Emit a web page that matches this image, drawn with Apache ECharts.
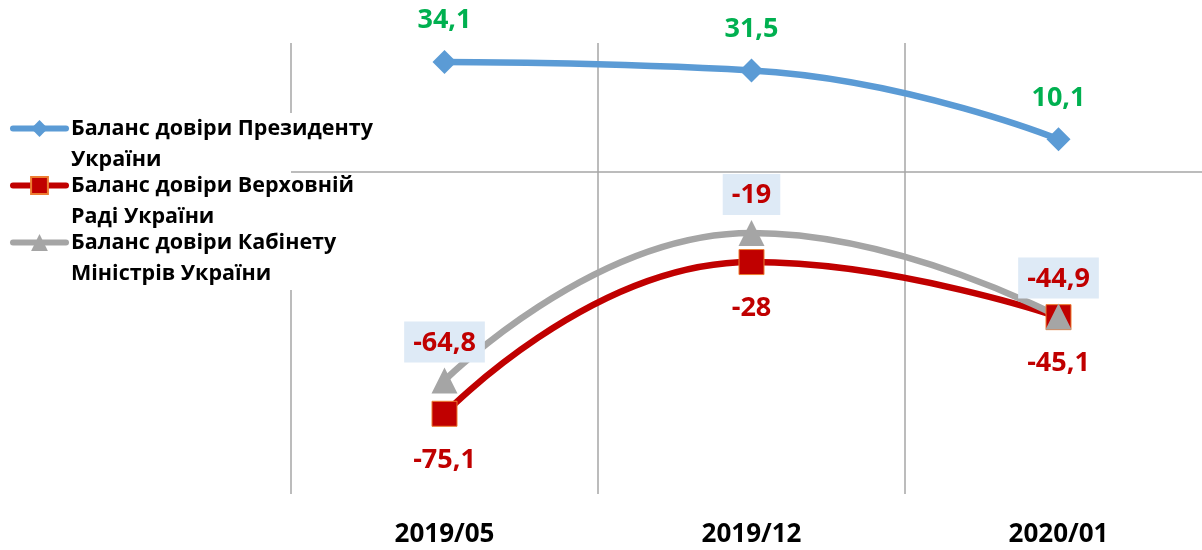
<!DOCTYPE html>
<html>
<head>
<meta charset="utf-8">
<script src="https://cdn.jsdelivr.net/npm/echarts@6/dist/echarts.min.js"></script>
<style>html,body{margin:0;padding:0;background:#fff;}#c{width:1202px;height:550px;}</style>
</head>
<body>
<div id="c"></div>
<script>
const categories = ['2019/05', '2019/12', '2020/01'];
const seriesNames = ['Баланс довіри Президенту України', 'Баланс довіри Верховній Раді України', 'Баланс довіри Кабінету Міністрів України'];
const legendLines = {
  'Баланс довіри Президенту України': ['Баланс довіри Президенту', 'України'],
  'Баланс довіри Верховній Раді України': ['Баланс довіри Верховній', 'Раді України'],
  'Баланс довіри Кабінету Міністрів України': ['Баланс довіри Кабінету', 'Міністрів України']
};
const president = [34.1, 31.5, 10.1];
const rada = [-75.1, -28, -45.1];
const cabinet = [-64.8, -19, -44.9];

const FONT = 'Open Sans';
const fmt = p => String(p.value).replace('.', ',');

const chart = echarts.init(document.getElementById('c'), null, {renderer: 'canvas'});
chart.setOption({
  animation: false,
  backgroundColor: '#fff',
  grid: {left: 291, width: 921, top: 43, bottom: 56, containLabel: false, outerBoundsMode: 'none'},
  xAxis: {
    type: 'category',
    data: categories,
    boundaryGap: true,
    axisLine: {show: false, onZero: false},
    axisTick: {show: false},
    splitLine: {show: true, lineStyle: {color: '#A6A6A6', width: 1.5}},
    axisLabel: {margin: 28, color: '#000', fontFamily: FONT, fontWeight: 'bold', fontSize: 26}
  },
  yAxis: {
    type: 'value', min: -100, max: 40, interval: 20, show: false,
    splitLine: {show: false}
  },
  legend: {
    orient: 'vertical', left: 10, top: 82, padding: 0, itemGap: -36,
    itemWidth: 53, itemHeight: 21,
    data: seriesNames,
    formatter: name => '\n' + legendLines[name].join('\n'),
    lineStyle: {width: 6, cap: 'round'},
    textStyle: {color: '#000', fontFamily: FONT, fontWeight: 'bold', fontSize: 21.5, lineHeight: 31},
    z: 10
  },
  graphic: [{
    type: 'rect', z: 5, silent: true,
    shape: {x: 0, y: 113, width: 387, height: 177},
    style: {fill: '#fff'}
  }],
  series: [
    {
      name: seriesNames[0], type: 'line', data: president, smooth: 0.5,
      symbol: 'diamond', symbolSize: 24,
      lineStyle: {color: '#5B9BD5', width: 6.5, cap: 'round'},
      itemStyle: {color: '#5B9BD5'},
      label: {show: true, position: 'top', distance: 16, formatter: fmt, color: '#00B050', fontFamily: FONT, fontWeight: 'bold', fontSize: 27},
      markLine: {
        silent: true, symbol: 'none', label: {show: false},
        lineStyle: {color: '#A6A6A6', width: 1.5, type: 'solid'},
        data: [{yAxis: 0}]
      }
    },
    {
      name: seriesNames[1], type: 'line', data: rada, smooth: 0.5,
      symbol: 'rect', symbolSize: 25,
      lineStyle: {color: '#C00000', width: 6.5, cap: 'round'},
      itemStyle: {color: '#C00000', borderColor: '#ED7D31', borderWidth: 1},
      label: {show: true, position: 'bottom', distance: 20, formatter: fmt, color: '#C00000', fontFamily: FONT, fontWeight: 'bold', fontSize: 27}
    },
    {
      name: seriesNames[2], type: 'line', data: cabinet, smooth: 0.5,
      symbol: 'triangle', symbolSize: 26,
      lineStyle: {color: '#A5A5A5', width: 6.5, cap: 'round'},
      itemStyle: {color: '#A5A5A5'},
      label: {show: true, position: 'top', distance: 5, formatter: fmt, color: '#C00000', fontFamily: FONT, fontWeight: 'bold', fontSize: 27,
        backgroundColor: '#DEEAF6', padding: [8, 9, 6, 9]}
    }
  ]
});
</script>
</body>
</html>
